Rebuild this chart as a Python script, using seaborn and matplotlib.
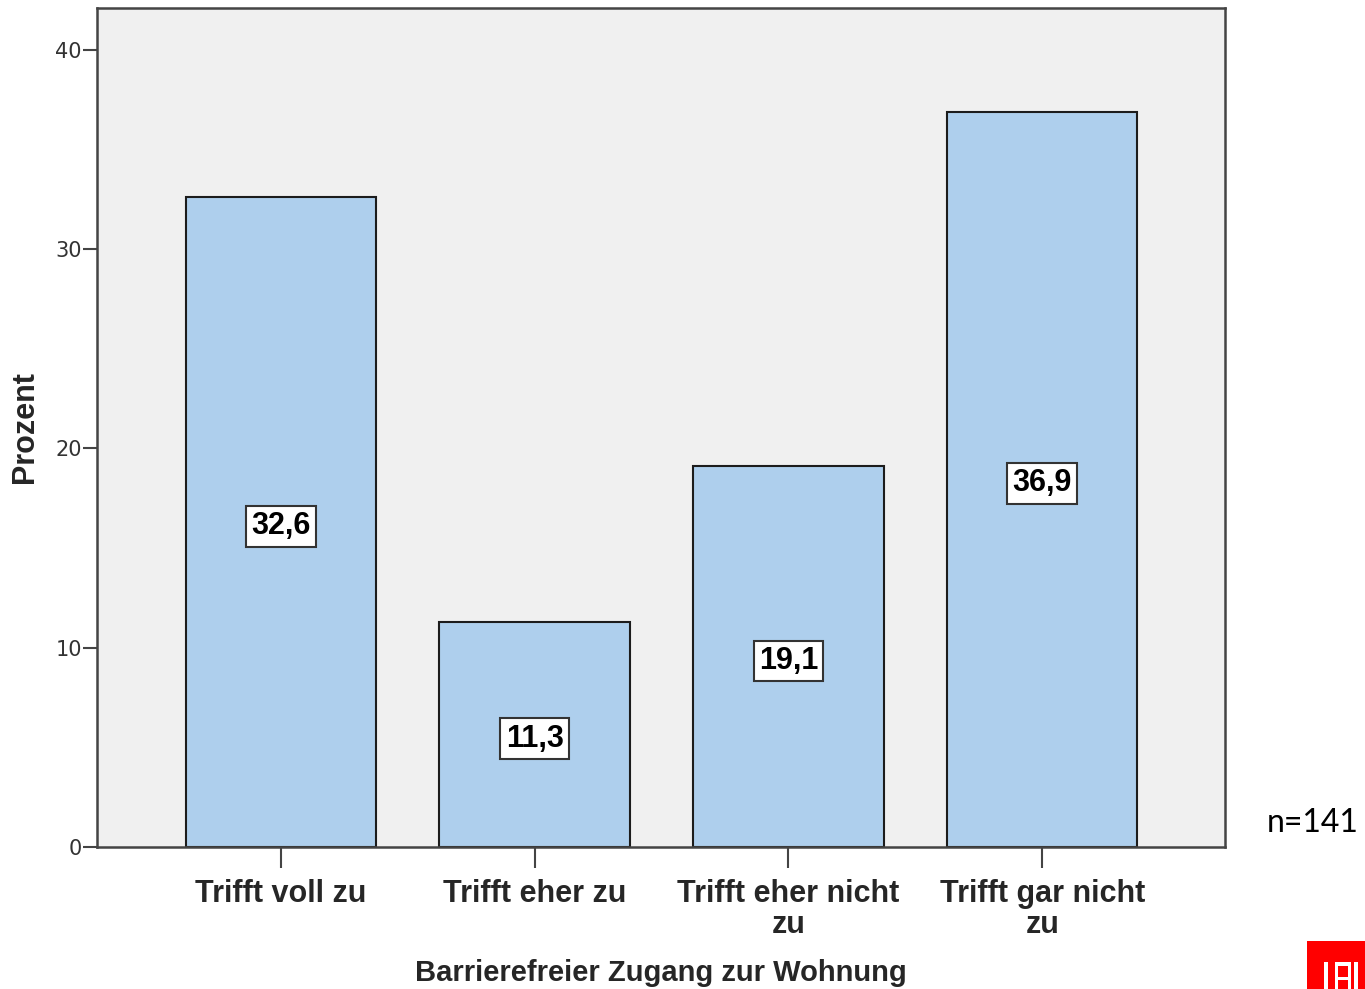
import matplotlib
matplotlib.use("Agg")
import matplotlib.pyplot as plt
import matplotlib.patches as mpatches
import seaborn as sns
import pandas as pd

# Survey result: barrier-free access to the apartment (percent of respondents)
categories = ["Trifft voll zu", "Trifft eher zu", "Trifft eher nicht\nzu", "Trifft gar nicht\nzu"]
percent = [32.6, 11.3, 19.1, 36.9]
value_labels = ["32,6", "11,3", "19,1", "36,9"]
y_ticks = [0, 10, 20, 30, 40]
sample_note = "n=141"

sns.set_theme(style="white")
plt.rcParams["font.family"] = ["Liberation Sans", "DejaVu Sans"]

df = pd.DataFrame({"Kategorie": categories, "Prozent": percent})

W, H = 1365, 989
fig = plt.figure(figsize=(W / 100, H / 100), dpi=100)
ax = fig.add_axes([97 / W, 1 - 847 / H, (1225 - 97) / W, (847 - 8) / H])
ax.set_facecolor("#f0f0f0")

sns.barplot(data=df, x="Kategorie", y="Prozent", ax=ax, color="#aecfed",
            saturation=1, width=0.75, edgecolor="#1c1c1c", linewidth=1.5,
            errorbar=None)

ax.set_xlim(-0.724, 3.72)
ax.set_ylim(0, 42.1)
ax.set_yticks(y_ticks)
ax.set_yticklabels([str(t) for t in y_ticks], fontsize=15, color="#333333",
                   family="DejaVu Sans")
ax.tick_params(axis="y", direction="out", length=10, width=1.5, color="#444444",
               pad=1, left=True)
ax.tick_params(axis="x", direction="out", length=15, width=1.5, color="#444444",
               pad=8, bottom=True)
for lbl in ax.get_xticklabels():
    lbl.set_fontsize(22)
    lbl.set_fontweight("bold")
    lbl.set_linespacing(1.05)
    lbl.set_verticalalignment("top")

for side in ["left", "right", "top", "bottom"]:
    ax.spines[side].set_visible(True)
    ax.spines[side].set_color("#444444")
    ax.spines[side].set_linewidth(1.8)

ax.set_xlabel("Barrierefreier Zugang zur Wohnung", fontsize=21, fontweight="bold")
ax.xaxis.set_label_coords(0.5, -(973 - 847) / 839)
ax.xaxis.label.set_verticalalignment("center")
ax.set_ylabel("Prozent", fontsize=22, fontweight="bold", va="center")
ax.yaxis.set_label_coords(-(97 - 25) / 1128, 0.5)

# value boxes in the middle of each bar
for i, (v, txt) in enumerate(zip(percent, value_labels)):
    ax.annotate(txt, xy=(i, v / 2), xytext=(0, -3), textcoords="offset points",
                ha="center", va="center", fontsize=22, fontweight="bold",
                color="black",
                bbox=dict(boxstyle="square,pad=0.17", facecolor="white",
                          edgecolor="#333333", linewidth=1.5))

fig.text(1267 / W, 1 - 823 / H, sample_note, fontsize=23, family="Lato",
         ha="left", va="center", color="black")

# red corner logo
def fig_rect(x0, y0, x1, y1, color):
    fig.patches.append(mpatches.Rectangle((x0 / W, 1 - y1 / H), (x1 - x0) / W,
                                          (y1 - y0) / H, transform=fig.transFigure,
                                          facecolor=color, edgecolor="none"))

fig_rect(1307, 941, 1365, 989, "#ff0000")
fig_rect(1324, 962, 1328, 989, "white")
fig_rect(1335, 962, 1351, 989, "white")
fig_rect(1338, 966, 1348, 977, "#ff0000")
fig_rect(1338, 980, 1348, 989, "#ff0000")
fig_rect(1354, 962, 1358, 989, "white")

fig.savefig("out.png", dpi=100)
